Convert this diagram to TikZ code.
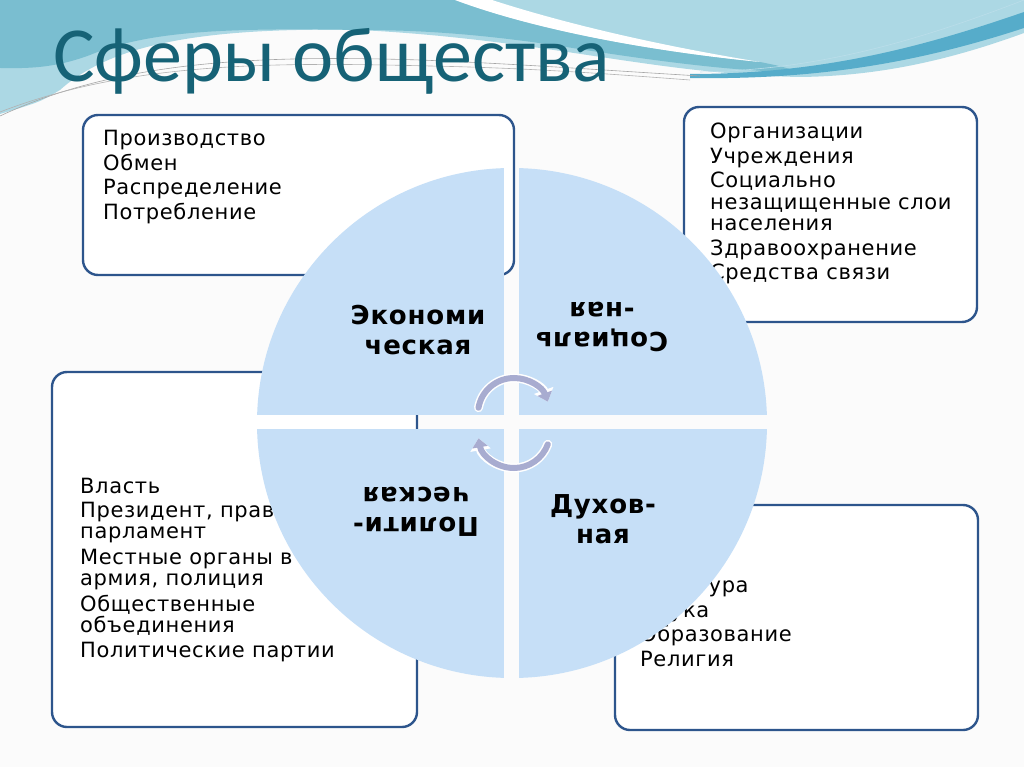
\documentclass[tikz,border=0pt]{standalone}
\usepackage{fontspec}
\setmainfont{DejaVu Sans}
\newfontfamily\titlefont{Carlito}
\newfontfamily\bodyfont{DejaVu Sans}[LetterSpace=3]
\newfontfamily\quadfont{DejaVu Sans}[LetterSpace=3]
\usetikzlibrary{arrows.meta}
\definecolor{titlecol}{RGB}{22,98,118}
\definecolor{tealA}{RGB}{122,190,208}
\definecolor{tealB}{RGB}{172,216,228}
\definecolor{tealC}{RGB}{86,172,202}
\definecolor{boxline}{RGB}{45,85,140}
\definecolor{quad}{RGB}{198,223,247}
\definecolor{arrowcol}{RGB}{168,172,208}
\definecolor{bg}{RGB}{251,251,251}
\tikzset{
  infobox/.style={draw=boxline, line width=2.4pt, fill=white, rounded corners=15pt},
  boxtext/.style={anchor=north west, inner sep=0pt, align=left, text=black},
  quadtext/.style={inner sep=0pt, align=center, text=black,
    font=\quadfont\bfseries\fontsize{26}{30}\selectfont},
  cyclearrow/.style={line width=6pt, arrowcol, line cap=round},
  cycleback/.style={line width=9pt, white, line cap=round}
}
\begin{document}
\begin{tikzpicture}[x=1pt,y=-1pt]
\useasboundingbox (0,0) rectangle (1024,767);
\fill[bg] (0,0) rectangle (1024,767);
% --- header waves ---
\fill[tealB] (0,0) -- (1024,0) -- (1024,33)
  .. controls (950,60) and (880,76) .. (800,77)
  .. controls (650,74) and (550,40) .. (360,30)
  .. controls (200,27) and (110,45) .. (60,90)
  .. controls (40,102) .. (0,114) -- cycle;
\fill[tealA] (0,0) -- (455,0)
  .. controls (530,28) and (640,50) .. (760,62)
  .. controls (780,66) .. (800,72)
  .. controls (740,72) and (660,62) .. (560,46)
  .. controls (480,34) and (420,30) .. (360,30)
  .. controls (230,28) and (150,30) .. (90,55)
  .. controls (50,70) and (20,68) .. (0,68) -- cycle;
\fill[white] (455,0) .. controls (530,28) and (640,50) .. (760,62)
  .. controls (650,44) and (560,22) .. (492,0) -- cycle;
\fill[tealC] (690,74) .. controls (820,74) and (920,48) .. (1024,12)
  -- (1024,28) .. controls (920,62) and (820,80) .. (690,78) -- cycle;
\draw[gray!70, line width=0.6pt] (0,116) .. controls (120,60) and (260,55) .. (420,60)
  .. controls (520,64) and (600,70) .. (700,76);
\draw[gray!60, line width=0.6pt] (0,112) .. controls (130,62) and (270,62) .. (430,66)
  .. controls (530,68) and (610,74) .. (690,80);
\draw[white!60!tealC, line width=0.6pt] (700,72) .. controls (820,70) and (920,40) .. (1024,0);
% --- title ---
\node[anchor=base west, inner sep=0pt, text=titlecol,
  font=\titlefont\fontsize{78}{80}\selectfont] (title) at (53,82) {Сферы общества};
% --- boxes ---
\draw[infobox] (83,115) rectangle (514,275);
\draw[infobox] (684,107) rectangle (977,322);
\draw[infobox] (52,372) rectangle (417,727);
\draw[infobox] (615,505) rectangle (978,730);
\node[boxtext, font=\bodyfont\fontsize{21}{24.6}\selectfont] (econlist) at (103,130)
  {Производство\\Обмен\\Распределение\\Потребление};
\node[boxtext, font=\bodyfont\fontsize{21}{21.5}\selectfont] (soclist) at (710,123)
  {Организации\\[3pt]Учреждения\\[3pt]Социально\\незащищенные слои\\населения\\[3pt]Здравоохранение\\[3pt]Средства связи};
\node[boxtext, font=\bodyfont\fontsize{21}{21.5}\selectfont] (pollist) at (80,478)
  {Власть\\[2pt]Президент, прав\\парламент\\[4pt]Местные органы в\\армия, полиция\\[4pt]Общественные\\объединения\\[3pt]Политические партии};
\node[boxtext, font=\bodyfont\fontsize{21}{24.5}\selectfont] (duhlist) at (640,577)
  {Культура\\Наука\\Образование\\Религия};
% --- circle quadrants ---
\begin{scope}
\clip (512,423) circle (255);
\fill[quad] (250,160) rectangle (504,415);
\fill[quad] (519,160) rectangle (775,415);
\fill[quad] (250,429) rectangle (504,690);
\fill[quad] (519,429) rectangle (775,690);
\end{scope}
\node[quadtext] (econ) at (418,330) {Экономи\\ческая};
\node[quadtext, rotate=180] (soc) at (602,327) {Социаль\\-ная};
\node[quadtext, rotate=180] (pol) at (416,512) {Полити-\\ческая};
\node[quadtext] (duh) at (603,519) {Духов-\\ная};
% --- cycle arrows ---
\coordinate (ta) at (478.5,407.7);
\coordinate (tt) at (514,378);
\coordinate (tb) at (547.8,401.7);
\coordinate (br) at (547.8,444.3);
\coordinate (bb) at (514,468);
\coordinate (bl) at (478.5,438.3);
\draw[cycleback, -{Triangle[length=12pt,width=20pt]}] (ta) .. controls (481.5,390.5) and (496.5,378) .. (tt)
  .. controls (529.1,378) and (542.6,387.5) .. (tb);
\draw[cyclearrow, -{Triangle[length=9pt,width=15pt]}] (ta) .. controls (481.5,390.5) and (496.5,378) .. (tt)
  .. controls (529.1,378) and (542.6,387.5) .. (tb);
\draw[cycleback, -{Triangle[length=12pt,width=20pt]}] (br) .. controls (542.6,458.5) and (529.1,468) .. (bb)
  .. controls (496.5,468) and (481.5,455.5) .. (bl);
\draw[cyclearrow, -{Triangle[length=9pt,width=15pt]}] (br) .. controls (542.6,458.5) and (529.1,468) .. (bb)
  .. controls (496.5,468) and (481.5,455.5) .. (bl);
\end{tikzpicture}
\end{document}
